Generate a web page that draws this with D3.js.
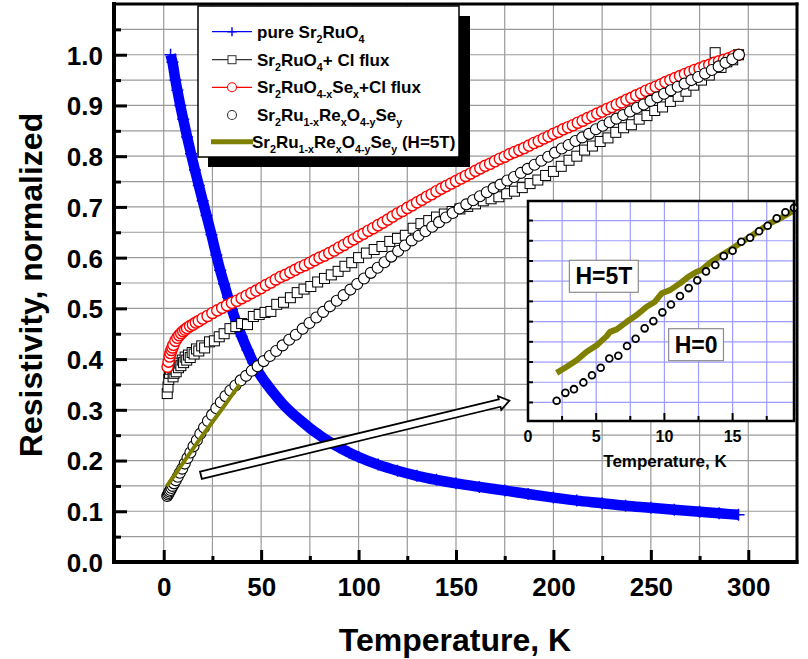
<!DOCTYPE html>
<html>
<head>
<meta charset="utf-8">
<script src="https://cdn.jsdelivr.net/npm/d3@7"></script>
<style>
  body { margin: 0; background: #fff; }
  text { font-family: "Liberation Sans", Arial, sans-serif; font-weight: bold; }
</style>
</head>
<body>
<svg id="chart" width="808" height="659"></svg>
<script>
// ---- tick values ----
const xMajor = [0, 50, 100, 150, 200, 250, 300];
const xMinor = [25, 75, 125, 175, 225, 275];
const yMajor = [0, 0.1, 0.2, 0.3, 0.4, 0.5, 0.6, 0.7, 0.8, 0.9, 1.0];
const yMinor = [0.05, 0.15, 0.25, 0.35, 0.45, 0.55, 0.65, 0.75, 0.85, 0.95, 1.05];
const insetXMajor = [0, 5, 10, 15];
const insetXMinor = [2.5, 7.5, 12.5, 17.5];
const insetYTicks = [0.132, 0.144, 0.156, 0.168, 0.18, 0.192, 0.204, 0.216, 0.228, 0.24];

// ---- series: [T (K), normalized resistivity] ----
// pure Sr2RuO4
const pureData = [
  [3.5,1.0],[4.5,0.985],[6,0.95],[7,0.93],[8.5,0.9],[10,0.873],[12,0.838],[14,0.805],
  [16,0.773],[18,0.742],[20,0.712],[22,0.683],[24.5,0.645],[27,0.605],[29,0.575],[31,0.548],
  [33,0.522],[35,0.498],[37.5,0.47],[40,0.445],[43,0.418],[46,0.393],[49,0.372],[52,0.355],
  [56,0.335],[61,0.312],[66,0.293],[70,0.28],[75,0.264],[80,0.25],[85,0.237],[90,0.226],
  [95,0.216],[100,0.207],[110,0.192],[120,0.18],[130,0.17],[140,0.162],[150,0.155],[162,0.148],
  [175,0.141],[187,0.134],[200,0.127],[212,0.121],[225,0.116],[237,0.111],[250,0.107],
  [262,0.103],[275,0.099],[285,0.096],[295,0.093]
];
// Sr2RuO4 + Cl flux
const fluxData = [
  [1.8,0.332],[2.2,0.345],[2.6,0.36],[3.0,0.372],[3.4,0.38],[3.8,0.39],[4.3,0.385],[4.8,0.365],
  [5.3,0.372],[5.8,0.38],[6.4,0.375],[7.0,0.388],[7.6,0.383],[8.2,0.392],[8.8,0.387],[9.5,0.398],
  [10.2,0.393],[11,0.404],[11.8,0.398],[12.7,0.408],[13.6,0.403],[14.6,0.413],[15.6,0.41],
  [16.8,0.42],[18,0.416],[19.5,0.426],[21,0.422],[23.5,0.434],[26,0.436],[28.5,0.444],[31,0.45],
  [34,0.46],[37,0.464],[40,0.47],[43,0.468],[46,0.484],[49,0.488],[52,0.492],[55,0.494],
  [58,0.508],[61.5,0.512],[65,0.521],[68.5,0.531],[72,0.538],[75.5,0.543],[79,0.552],
  [82.5,0.559],[86,0.566],[89.5,0.573],[93,0.583],[96.5,0.59],[100,0.6],[104,0.609],[108,0.616],
  [112,0.622],[116,0.632],[120,0.638],[124,0.644],[128,0.658],[132,0.667],[136,0.673],[140,0.68],
  [144,0.686],[148,0.691],[152,0.696],[156,0.701],[160,0.706],[164,0.712],[168,0.716],[172,0.72],
  [176,0.726],[180,0.731],[184,0.738],[188,0.746],[192,0.753],[196,0.762],[200,0.77],[204,0.78],
  [208,0.792],[212,0.8],[216,0.812],[220,0.82],[224,0.829],[228,0.836],[232,0.847],[236,0.856],
  [240,0.862],[244,0.873],[248,0.88],[252,0.89],[256,0.897],[260,0.908],[264,0.918],[268,0.928],
  [272,0.94],[276,0.95],[280,0.96],[283,1.004],[286,0.975],[289,0.986],[292,0.99],[295,1.0]
];
// Sr2RuO4-xSex + Cl flux
const seData = [
  [2,0.385],[2.5,0.395],[3,0.405],[3.5,0.412],[4,0.418],[4.5,0.423],[5,0.428],[6,0.436],[7,0.442],
  [8,0.447],[9,0.451],[10,0.455],[11,0.458],[12,0.461],[13.5,0.465],[15,0.468],[16.5,0.472],
  [18,0.475],[20,0.48],[22.5,0.485],[25,0.491],[27.5,0.496],[30,0.501],[32.5,0.506],[35,0.511],
  [37.5,0.515],[40,0.52],[42.5,0.525],[45,0.53],[47.5,0.535],[50,0.54],[52.5,0.546],[55,0.551],
  [57.5,0.557],[60,0.562],[62.5,0.566],[65,0.571],[67.5,0.576],[70,0.581],[72.5,0.585],[75,0.59],
  [77.5,0.595],[80,0.6],[82.5,0.604],[85,0.609],[87.5,0.614],[90,0.62],[92.5,0.625],[95,0.631],
  [97.5,0.636],[100,0.642],[102.5,0.647],[105,0.653],[107.5,0.658],[110,0.664],[112.5,0.669],
  [115,0.675],[117.5,0.681],[120,0.687],[122.5,0.692],[125,0.698],[127.5,0.703],[130,0.709],
  [132.5,0.714],[135,0.72],[137.5,0.725],[140,0.731],[142.5,0.736],[145,0.741],[147.5,0.746],
  [150,0.751],[152.5,0.756],[155,0.761],[157.5,0.766],[160,0.771],[162.5,0.776],[165,0.781],
  [167.5,0.785],[170,0.79],[172.5,0.795],[175,0.799],[177.5,0.804],[180,0.808],[182.5,0.812],
  [185,0.816],[187.5,0.821],[190,0.826],[192.5,0.83],[195,0.835],[197.5,0.839],[200,0.844],
  [202.5,0.848],[205,0.853],[207.5,0.857],[210,0.861],[212.5,0.866],[215,0.87],[217.5,0.875],
  [220,0.879],[222.5,0.884],[225,0.888],[227.5,0.893],[230,0.897],[232.5,0.902],[235,0.906],
  [237.5,0.911],[240,0.915],[242.5,0.92],[245,0.924],[247.5,0.929],[250,0.933],[252.5,0.937],
  [255,0.941],[257.5,0.946],[260,0.95],[262.5,0.954],[265,0.958],[267.5,0.962],[270,0.966],
  [272.5,0.97],[275,0.973],[277.5,0.977],[280,0.98],[282.5,0.984],[285,0.987],[287.5,0.99],
  [290,0.993],[292.5,0.997],[295,1.0]
];
// Sr2Ru1-xRexO4-ySey
const reData = [
  [1.8,0.13],[2.2,0.133],[2.6,0.136],[3.0,0.139],[3.5,0.142],[4.0,0.146],[4.6,0.15],[5.3,0.155],
  [6.2,0.161],[7.2,0.168],[8.3,0.176],[9.5,0.184],[10.8,0.194],[12.2,0.205],[13.7,0.216],
  [15.3,0.228],[17,0.24],[18.8,0.253],[20.7,0.265],[22.7,0.278],[24.8,0.29],[27,0.303],
  [29.3,0.315],[31.7,0.327],[34.2,0.338],[36.8,0.348],[39.5,0.358],[42.3,0.367],[45.2,0.377],
  [48.2,0.386],[51.3,0.396],[54.5,0.406],[57.7,0.416],[61,0.427],[64.4,0.438],[67.8,0.448],
  [71.3,0.46],[74.8,0.471],[78.3,0.482],[81.8,0.493],[85.3,0.504],[88.8,0.515],[92.3,0.526],
  [95.8,0.537],[99.3,0.548],[102.8,0.559],[106.3,0.57],[109.8,0.58],[113.3,0.591],[116.8,0.602],
  [120.3,0.613],[123.8,0.624],[127.3,0.634],[130.8,0.643],[134.3,0.652],[137.8,0.661],
  [141.3,0.67],[144.8,0.679],[148.3,0.688],[151.8,0.697],[155.3,0.705],[158.8,0.713],
  [162.3,0.721],[165.8,0.729],[169.3,0.737],[172.8,0.744],[176.3,0.752],[179.8,0.759],
  [183.3,0.767],[186.8,0.775],[190.3,0.783],[193.8,0.791],[197.3,0.799],[200.8,0.807],
  [204.3,0.815],[207.8,0.822],[211.3,0.83],[214.8,0.837],[218.3,0.844],[221.8,0.853],
  [225.3,0.86],[228.8,0.867],[232.3,0.874],[235.8,0.881],[239.3,0.888],[242.8,0.895],
  [246.3,0.902],[249.8,0.909],[253.3,0.916],[256.8,0.923],[260.3,0.93],[263.8,0.937],
  [267.3,0.943],[270.8,0.95],[274.3,0.956],[277.8,0.963],[281.3,0.97],[284.8,0.977],
  [288.3,0.984],[291.8,0.991],[295.2,1.0]
];
// Sr2Ru1-xRexO4-ySey at H = 5 T
const fieldData = [
  [1.5,0.149],[5,0.168],[10,0.196],[15,0.223],[20,0.25],[25,0.276],[30,0.302],[35,0.329],[39,0.35]
];

// ---- inset (low temperature) ----
const insetH0 = [
  [2.1,0.133],[2.74,0.1377],[3.37,0.1399],[4.06,0.1439],[4.69,0.1482],[5.33,0.1526],[5.96,0.1581],
  [6.62,0.1597],[7.26,0.1655],[7.89,0.1698],[8.55,0.176],[9.19,0.1803],[9.85,0.1855],[10.48,0.1902],
  [11.14,0.1952],[11.78,0.1999],[12.41,0.2045],[13.05,0.2098],[13.73,0.2136],[14.35,0.2189],
  [15.0,0.2221],[15.64,0.2274],[16.28,0.2298],[16.94,0.2336],[17.57,0.2369],[18.23,0.2413],
  [18.87,0.2449],[19.5,0.2476]
];
const insetH5 = [
  [2.1,0.1496],[2.84,0.1532],[3.57,0.1571],[4.3,0.1621],[5.04,0.166],[5.77,0.1714],[6.01,0.1739],
  [6.5,0.1754],[7.24,0.1799],[7.97,0.1839],[8.7,0.1888],[9.31,0.1918],[9.8,0.1968],[10.41,0.1987],
  [11.14,0.2027],[11.75,0.2066],[12.37,0.2096],[12.71,0.2106],[13.34,0.2149],[14.08,0.2189],
  [14.81,0.2225],[15.54,0.2265],[16.28,0.2304],[17.01,0.2344],[17.74,0.2384],[18.48,0.2413],
  [19.21,0.2447],[19.5,0.2459]
];

// ---- annotations ----
const arrowFrom = [19.1, 0.171];
const arrowTo = [177.4, 0.318];
const insetNotes = [
  { text: "H=5T", t: 5.56, v: 0.2069 },
  { text: "H=0", t: 12.32, v: 0.1663 }
];

const legendLabels = [
  [["pure Sr",0],["2",1],["RuO",0],["4",1]],
  [["Sr",0],["2",1],["RuO",0],["4",1],["+ Cl flux",0]],
  [["Sr",0],["2",1],["RuO",0],["4-x",1],["Se",0],["x",1],["+Cl flux",0]],
  [["Sr",0],["2",1],["Ru",0],["1-x",1],["Re",0],["x",1],["O",0],["4-y",1],["Se",0],["y",1]],
  [["Sr",0],["2",1],["Ru",0],["1-x",1],["Re",0],["x",1],["O",0],["4-y",1],["Se",0],["y",1],[" (H=5T)",0]]
];

const BLUE = "#0000ff", RED = "#ff0000", OLIVE = "#808000";

const svg = d3.select("#chart");
svg.append("rect").attr("width", 808).attr("height", 659).attr("fill", "#fff");

const x = d3.scaleLinear().domain([-25, 325]).range([115, 797]);
const y = d3.scaleLinear().domain([0, 1.1]).range([562, 4]);

svg.append("defs").append("clipPath").attr("id", "plotclip")
  .append("rect").attr("x", 115).attr("y", 4).attr("width", 682).attr("height", 558);

// grid
const grid = svg.append("g").attr("stroke", "#9a9a9a").attr("stroke-width", 1.2);
grid.selectAll(".gv").data(xMajor.concat(xMinor)).enter().append("line")
  .attr("x1", d => x(d)).attr("x2", d => x(d)).attr("y1", y(0)).attr("y2", y(1.1));
grid.selectAll(".gh").data(yMajor.slice(1).concat(yMinor)).enter().append("line")
  .attr("x1", x(-25)).attr("x2", x(325)).attr("y1", d => y(d)).attr("y2", d => y(d));

// data
const plot = svg.append("g").attr("clip-path", "url(#plotclip)");

plot.append("path").datum(pureData)
  .attr("d", d3.line().x(d => x(d[0])).y(d => y(d[1])).curve(d3.curveMonotoneX))
  .attr("fill", "none").attr("stroke", BLUE).attr("stroke-width", 10.5);
plot.append("g").selectAll("path").data(pureData).enter().append("path")
  .attr("transform", d => `translate(${x(d[0])},${y(d[1])})`)
  .attr("d", "M-6,0H6M0,-6V6")
  .attr("stroke", BLUE).attr("stroke-width", 1.5);

plot.append("g").selectAll("rect").data(fluxData).enter().append("rect")
  .attr("x", d => x(d[0]) - 5).attr("y", d => y(d[1]) - 5)
  .attr("width", 10).attr("height", 10)
  .attr("fill", "#fff").attr("stroke", "#000").attr("stroke-width", 1);

plot.append("g").selectAll("circle").data(seData).enter().append("circle")
  .attr("cx", d => x(d[0])).attr("cy", d => y(d[1])).attr("r", 5.6)
  .attr("fill", "#fff").attr("stroke", RED).attr("stroke-width", 1.4);

plot.append("g").selectAll("circle").data(reData).enter().append("circle")
  .attr("cx", d => x(d[0])).attr("cy", d => y(d[1])).attr("r", 5.5)
  .attr("fill", "#fff").attr("stroke", "#000").attr("stroke-width", 1.1);

plot.append("path").datum(fieldData)
  .attr("d", d3.line().x(d => x(d[0])).y(d => y(d[1])))
  .attr("fill", "none").attr("stroke", OLIVE).attr("stroke-width", 4);

// hollow arrow pointing at the inset
(function () {
  const x0 = x(arrowFrom[0]), y0 = y(arrowFrom[1]);
  const x1 = x(arrowTo[0]), y1 = y(arrowTo[1]);
  const len = Math.hypot(x1 - x0, y1 - y0);
  const ux = (x1 - x0) / len, uy = (y1 - y0) / len;
  const nx = -uy, ny = ux;
  const hw = 3.8, hh = 7, hl = 10;
  const pt = (a, b) => [x0 + ux * a + nx * b, y0 + uy * a + ny * b];
  const pts = [pt(0, hw), pt(len - hl, hw), pt(len - hl, hh), pt(len, 0),
               pt(len - hl, -hh), pt(len - hl, -hw), pt(0, -hw)];
  svg.append("polygon").attr("points", pts.map(p => p.join(",")).join(" "))
    .attr("fill", "#fff").attr("stroke", "#000").attr("stroke-width", 1.8)
    .attr("stroke-linejoin", "miter");
})();

// axes
const xAxis = svg.append("g").attr("transform", `translate(0,${y(0)})`)
  .call(d3.axisBottom(x).tickValues(xMajor).tickSize(-12).tickPadding(16).tickFormat(d3.format("d")));
const xAxisMinor = svg.append("g").attr("transform", `translate(0,${y(0)})`)
  .call(d3.axisBottom(x).tickValues(xMinor).tickSize(-6).tickFormat(""));
const yAxis = svg.append("g").attr("transform", `translate(${x(-25)},0)`)
  .call(d3.axisLeft(y).tickValues(yMajor).tickSize(-12).tickPadding(12).tickFormat(d3.format(".1f")));
const yAxisMinor = svg.append("g").attr("transform", `translate(${x(-25)},0)`)
  .call(d3.axisLeft(y).tickValues(yMinor).tickSize(-6).tickFormat(""));
[xAxis, xAxisMinor, yAxis, yAxisMinor].forEach(a => {
  a.select(".domain").remove();
  a.selectAll("line").attr("stroke", "#000").attr("stroke-width", 3);
  a.selectAll("text").attr("fill", "#000").attr("font-size", 26);
});
yAxis.selectAll("text").attr("dy", "0.36em");

// frame
const frame = svg.append("g").attr("stroke", "#000");
frame.append("line").attr("x1", 114).attr("x2", 114).attr("y1", 2).attr("y2", 564).attr("stroke-width", 4);
frame.append("line").attr("x1", 112).attr("x2", 798.5).attr("y1", 562).attr("y2", 562).attr("stroke-width", 4);
frame.append("line").attr("x1", 112).attr("x2", 798.5).attr("y1", 4).attr("y2", 4).attr("stroke-width", 3);
frame.append("line").attr("x1", 797).attr("x2", 797).attr("y1", 2.5).attr("y2", 564).attr("stroke-width", 3);

// axis titles
svg.append("text").attr("x", 455).attr("y", 651).attr("text-anchor", "middle")
  .attr("font-size", 32).text("Temperature, K");
svg.append("text").attr("transform", "translate(42,285) rotate(-90)")
  .attr("text-anchor", "middle").attr("font-size", 32).text("Resistivity, normalized");

// text with subscripts
function richText(g, parts, tx, ty, size) {
  const t = g.append("text").attr("x", tx).attr("y", ty).attr("font-size", size)
    .attr("xml:space", "preserve");
  let cur = 0;
  parts.forEach(p => {
    const off = p[1] ? 5 : 0;
    t.append("tspan").attr("font-size", p[1] ? size * 0.63 : size)
      .attr("dy", off - cur).text(p[0]);
    cur = off;
  });
  return t;
}

// legend
const leg = svg.append("g");
leg.append("rect").attr("x", 208).attr("y", 16).attr("width", 262).attr("height", 151).attr("fill", "#000");
leg.append("rect").attr("x", 198).attr("y", 6).attr("width", 261).attr("height", 151)
  .attr("fill", "#fff").attr("stroke", "#000").attr("stroke-width", 1.5);
const rowY = [31.7, 59.7, 87.3, 115, 141.7];
// row 1
leg.append("line").attr("x1", 212).attr("x2", 252).attr("y1", rowY[0]).attr("y2", rowY[0])
  .attr("stroke", BLUE).attr("stroke-width", 1.2);
leg.append("path").attr("transform", `translate(232,${rowY[0]})`).attr("d", "M-4.5,0H4.5M0,-4.5V4.5")
  .attr("stroke", BLUE).attr("stroke-width", 1.4);
// row 2
leg.append("line").attr("x1", 212).attr("x2", 252).attr("y1", rowY[1]).attr("y2", rowY[1])
  .attr("stroke", "#333").attr("stroke-width", 1.2);
leg.append("rect").attr("x", 228).attr("y", rowY[1] - 4).attr("width", 8).attr("height", 8)
  .attr("fill", "#fff").attr("stroke", "#333").attr("stroke-width", 1);
// row 3
leg.append("line").attr("x1", 212).attr("x2", 252).attr("y1", rowY[2]).attr("y2", rowY[2])
  .attr("stroke", RED).attr("stroke-width", 1.2);
leg.append("circle").attr("cx", 232).attr("cy", rowY[2]).attr("r", 4.5)
  .attr("fill", "#fff").attr("stroke", RED).attr("stroke-width", 1.1);
// row 4
leg.append("circle").attr("cx", 232).attr("cy", rowY[3]).attr("r", 4.5)
  .attr("fill", "#fff").attr("stroke", "#333").attr("stroke-width", 1.1);
// row 5
leg.append("line").attr("x1", 211).attr("x2", 253).attr("y1", rowY[4]).attr("y2", rowY[4])
  .attr("stroke", OLIVE).attr("stroke-width", 5);
legendLabels.forEach((parts, i) => {
  richText(leg, parts, i === 4 ? 252 : 257, rowY[i] + 6, 17);
});

// inset
const xi = d3.scaleLinear().domain([0, 19.5]).range([528, 794]);
const yi = d3.scaleLinear().domain([0.121, 0.2516]).range([421, 201]);
const inset = svg.append("g");
inset.append("rect").attr("x", 528).attr("y", 201).attr("width", 266).attr("height", 220).attr("fill", "#fff");
const ig = inset.append("g").attr("stroke", "#9c9cff").attr("stroke-width", 1.2);
ig.selectAll(".v").data(insetXMinor.concat(insetXMajor.slice(1))).enter().append("line")
  .attr("x1", d => xi(d)).attr("x2", d => xi(d)).attr("y1", 201).attr("y2", 421);
ig.selectAll(".h").data(insetYTicks).enter().append("line")
  .attr("x1", 528).attr("x2", 794).attr("y1", d => yi(d)).attr("y2", d => yi(d));

inset.append("path").datum(insetH5)
  .attr("d", d3.line().x(d => xi(d[0])).y(d => yi(d[1])))
  .attr("fill", "none").attr("stroke", OLIVE).attr("stroke-width", 6)
  .attr("stroke-linejoin", "round");
inset.append("g").selectAll("circle").data(insetH0).enter().append("circle")
  .attr("cx", d => xi(d[0])).attr("cy", d => yi(d[1])).attr("r", 3.4)
  .attr("fill", "#fff").attr("stroke", "#000").attr("stroke-width", 1.8);

const it = inset.append("g").attr("stroke", "#000").attr("stroke-width", 2);
it.selectAll(".l").data(insetYTicks).enter().append("line")
  .attr("x1", 528).attr("x2", 533).attr("y1", d => yi(d)).attr("y2", d => yi(d));
it.selectAll(".bm").data(insetXMajor.slice(1)).enter().append("line")
  .attr("x1", d => xi(d)).attr("x2", d => xi(d)).attr("y1", 421).attr("y2", 413);
it.selectAll(".bn").data(insetXMinor).enter().append("line")
  .attr("x1", d => xi(d)).attr("x2", d => xi(d)).attr("y1", 421).attr("y2", 416);
inset.append("rect").attr("x", 528).attr("y", 201).attr("width", 266).attr("height", 220)
  .attr("fill", "none").attr("stroke", "#000").attr("stroke-width", 2.5);

inset.selectAll(".xl").data(insetXMajor).enter().append("text")
  .attr("x", d => xi(d)).attr("y", 441.5).attr("text-anchor", "middle")
  .attr("font-size", 16).text(d => d);
inset.append("text").attr("x", 665).attr("y", 467).attr("text-anchor", "middle")
  .attr("font-size", 17).text("Temperature, K");

insetNotes.forEach(n => {
  const g = inset.append("g");
  const t = g.append("text").attr("x", xi(n.t)).attr("y", yi(n.v) + 8)
    .attr("text-anchor", "middle").attr("font-size", 23).text(n.text);
  const b = t.node().getBBox();
  g.insert("rect", "text").attr("x", b.x - 6).attr("y", yi(n.v) - 16)
    .attr("width", b.width + 12).attr("height", 32)
    .attr("fill", "#fff").attr("stroke", "#8c8c8c").attr("stroke-width", 1.2);
});
</script>
</body>
</html>
